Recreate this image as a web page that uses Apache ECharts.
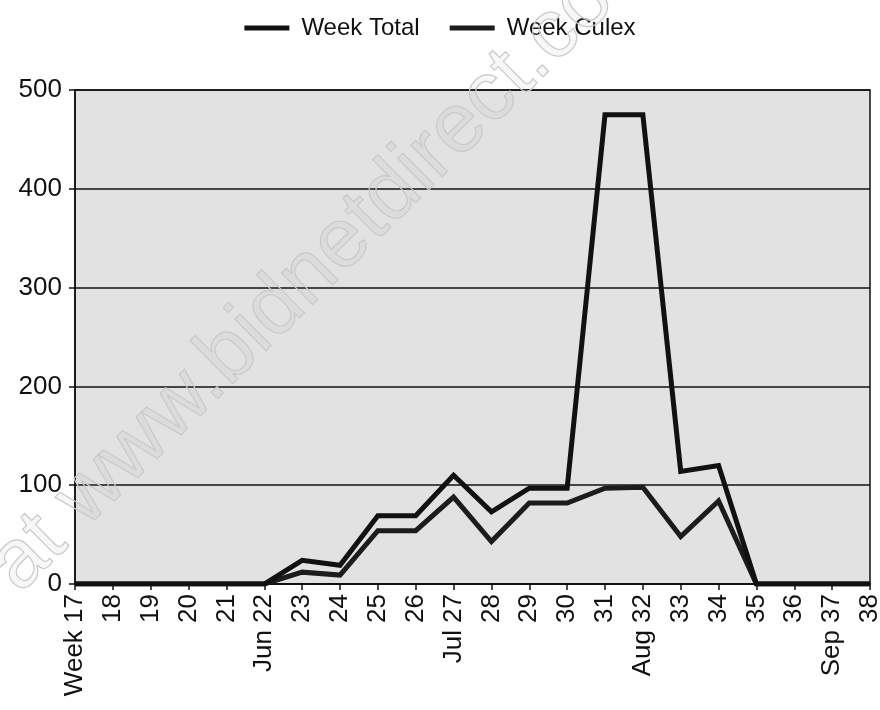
<!DOCTYPE html>
<html>
<head>
<meta charset="utf-8">
<script src="https://cdn.jsdelivr.net/npm/echarts@6/dist/echarts.min.js"></script>
<style>
  html, body { margin: 0; padding: 0; background: #fff; }
  #chart { width: 880px; height: 710px; }
</style>
</head>
<body>
<div id="chart"></div>
<script>
// weeks 17..38
var weeks = ['Week 17', '18', '19', '20', '21', '22', '23', '24', '25', '26', '27',
             '28', '29', '30', '31', '32', '33', '34', '35', '36', '37', '38'];
// month label under the first week of each month
var months = ['', '', '', '', '', 'Jun', '', '', '', '', 'Jul',
              '', '', '', '', 'Aug', '', '', '', '', 'Sep', ''];
var weekTotal = [0, 0, 0, 0, 0, 0, 24, 19, 69, 69, 110, 73, 97, 97, 475, 475, 114, 120, 0, 0, 0, 0];
var weekCulex = [0, 0, 0, 0, 0, 0, 12, 9, 54, 54, 88, 43, 82, 82, 97, 98, 48, 84, 0, 0, 0, 0];
var yTicks = [0, 100, 200, 300, 400, 500];

var font = 'Liberation Sans, Arial, sans-serif';

var myChart = echarts.init(document.getElementById('chart'));
var option = {
    animation: false,
    backgroundColor: '#fff',
    textStyle: { fontFamily: font },
    legend: {
        top: 11,
        left: 'center',
        itemWidth: 45,
        itemHeight: 5,
        itemGap: 30,
        icon: 'rect',
        textStyle: { fontSize: 24, color: '#111', fontFamily: font, padding: [0, 0, 0, 7] },
        data: ['Week Total', 'Week Culex']
    },
    graphic: [{
        type: 'text',
        x: -50,
        y: 690,
        rotation: 0.78,
        silent: true,
        style: {
            text: 'ed at www.bidnetdirect.com',
            font: '84px ' + font,
            verticalAlign: 'bottom',
            fill: 'rgba(150,150,150,0.08)',
            stroke: '#cccccc',
            lineWidth: 1.2
        },
        z: 100
    }],
    grid: {
        left: 75,
        right: 10,
        top: 90,
        bottom: 126,
        outerBoundsMode: 'none',
        show: true,
        backgroundColor: '#e2e2e2',
        borderColor: '#111',
        borderWidth: 1.5
    },
    xAxis: [{
        type: 'category',
        boundaryGap: false,
        data: weeks,
        axisLine: { lineStyle: { color: '#111', width: 2 } },
        axisTick: { show: true, length: 6, lineStyle: { color: '#111', width: 1.5 }, alignWithLabel: true },
        axisLabel: { rotate: 90, margin: 10, fontSize: 26, color: '#111', interval: 0, fontFamily: font },
        splitLine: { show: false }
    }, {
        type: 'category',
        position: 'bottom',
        offset: 36,
        boundaryGap: false,
        data: months,
        axisLine: { show: false },
        axisTick: { show: false },
        axisLabel: { rotate: 90, margin: 10, fontSize: 26, color: '#111', interval: 0, fontFamily: font },
        splitLine: { show: false }
    }],
    yAxis: {
        type: 'value',
        min: yTicks[0],
        max: yTicks[yTicks.length - 1],
        interval: 100,
        axisLine: { show: true, lineStyle: { color: '#111', width: 1.5 } },
        axisTick: { show: true, length: 6, lineStyle: { color: '#111', width: 1.5 } },
        axisLabel: { fontSize: 26, color: '#111', margin: 13, fontFamily: font },
        splitLine: { show: true, lineStyle: { color: '#111', width: 1.5 } }
    },
    series: [{
        name: 'Week Total',
        type: 'line',
        data: weekTotal,
        symbol: 'none',
        color: '#111',
        lineStyle: { width: 5, color: '#111', join: 'miter' },
        z: 3
    }, {
        name: 'Week Culex',
        type: 'line',
        data: weekCulex,
        symbol: 'none',
        color: '#1c1c1c',
        lineStyle: { width: 5, color: '#1c1c1c', join: 'miter' },
        z: 2
    }]
};
myChart.setOption(option);
window.onresize = myChart.resize;
</script>
</body>
</html>
